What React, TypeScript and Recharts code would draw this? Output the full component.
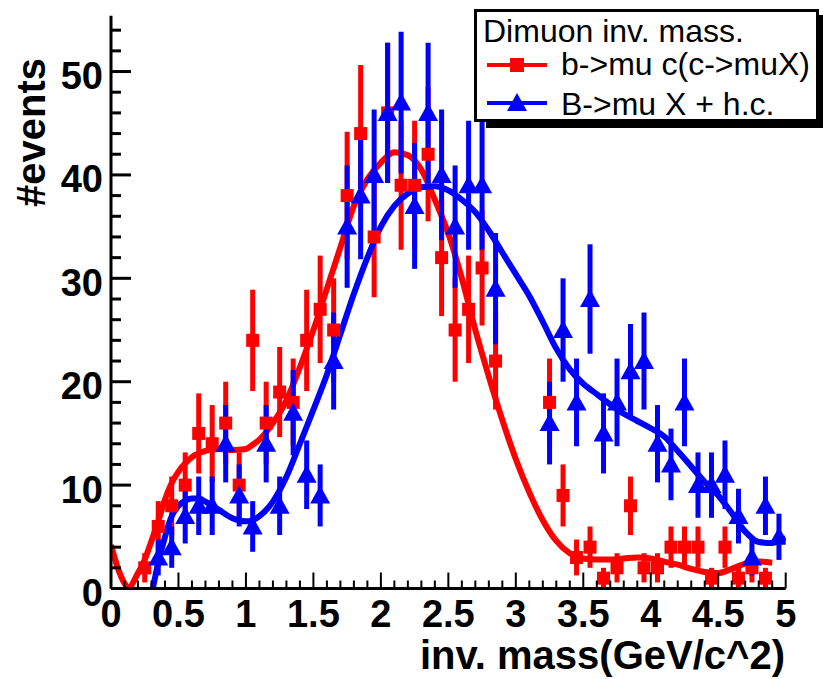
import { ComposedChart, Line, Scatter, XAxis, YAxis, ErrorBar, Legend } from 'recharts';

// bin centres of the 0.1 GeV/c^2 histogram bins
const binCenters = [
  0.05, 0.15, 0.25, 0.35, 0.45, 0.55, 0.65, 0.75, 0.85, 0.95,
  1.05, 1.15, 1.25, 1.35, 1.45, 1.55, 1.65, 1.75, 1.85, 1.95,
  2.05, 2.15, 2.25, 2.35, 2.45, 2.55, 2.65, 2.75, 2.85, 2.95,
  3.05, 3.15, 3.25, 3.35, 3.45, 3.55, 3.65, 3.75, 3.85, 3.95,
  4.05, 4.15, 4.25, 4.35, 4.45, 4.55, 4.65, 4.75, 4.85, 4.95,
];

// b->mu c(c->muX) counts (null = empty bin, not drawn)
const bToMuC = [
  null, null, 2, 6, 8, 10, 15, 14, 16, 10,
  24, 16, 19, 18, 24, 27, 25, 38, 44, 34,
  46, 39, 39, 42, 32, 25, 27, 31, 22, null,
  null, null, 18, 9, 3, 4, 1, 2, 8, 2,
  2, 4, 4, 4, 1, 4, 1, 2, 1, null,
];

// B->mu X + h.c. counts
const bToMuX = [
  null, null, null, 3, 4, 7, 8, 8, 14, 9,
  6, 14, 8, 17, 11, 9, 22, 35, 38, 40,
  46, 47, 37, 46, 40, 35, 39, 39, 29, null,
  null, null, 16, 25, 18, 28, 15, 18, 21, 22,
  14, 12, 18, 10, 10, 11, 7, 3, 8, 5,
];

// smooth fit curves
const redFitX = [0, 0.05, 0.1, 0.13, 0.2, 0.25, 0.3, 0.35, 0.4, 0.45, 0.5, 0.55, 0.6, 0.7, 0.8, 0.9, 1.0, 1.05, 1.1, 1.2, 1.3, 1.4, 1.5, 1.6, 1.7, 1.8, 1.9, 2.0, 2.1, 2.2, 2.3, 2.4, 2.5, 2.6, 2.7, 2.8, 2.9, 3.0, 3.1, 3.2, 3.3, 3.4, 3.5, 3.6, 3.7, 3.8, 3.9, 4.0, 4.1, 4.2, 4.3, 4.4, 4.5, 4.6, 4.7, 4.8, 4.9];
const redFitY = [4.2, 2.0, 0.5, 0.1, 1.5, 2.8, 4.6, 6.5, 8.6, 10.2, 11.3, 12.1, 12.7, 13.3, 13.5, 13.4, 13.5, 13.9, 14.4, 16.0, 18.2, 21.4, 25.0, 29.0, 33.0, 37.0, 39.6, 41.2, 42.2, 41.9, 40.5, 37.6, 34.3, 30.0, 25.0, 20.5, 16.3, 12.5, 9.3, 6.6, 4.6, 3.4, 2.9, 2.8, 2.8, 2.9, 3.0, 2.9, 2.6, 2.3, 1.9, 1.6, 1.5, 1.9, 2.4, 2.6, 2.5];

const blueFitX = [0.31, 0.35, 0.4, 0.45, 0.5, 0.55, 0.6, 0.65, 0.7, 0.8, 0.9, 1.0, 1.05, 1.1, 1.2, 1.3, 1.4, 1.5, 1.6, 1.7, 1.8, 1.9, 2.0, 2.1, 2.2, 2.3, 2.4, 2.5, 2.6, 2.7, 2.8, 2.9, 3.0, 3.1, 3.2, 3.3, 3.4, 3.5, 3.6, 3.7, 3.8, 3.9, 4.0, 4.1, 4.2, 4.3, 4.4, 4.5, 4.6, 4.7, 4.8, 4.9, 5.0];
const blueFitY = [0, 2.5, 5.0, 7.0, 8.0, 8.5, 8.7, 8.7, 8.4, 7.6, 6.8, 6.5, 6.6, 7.0, 8.4, 10.8, 14.0, 17.3, 20.7, 24.6, 28.5, 32.0, 35.0, 37.0, 38.2, 38.8, 38.9, 38.5, 37.6, 36.4, 34.6, 32.5, 30.4, 28.3, 25.8, 23.2, 21.2, 19.8, 18.8, 17.8, 16.9, 16.2, 15.5, 14.7, 13.3, 11.8, 10.3, 9.0, 7.3, 5.5, 4.5, 4.4, 4.9];

const xTicks = Array.from({ length: 51 }, (_, i) => i / 10);
const yTicks = Array.from({ length: 28 }, (_, i) => i * 2);

const RED = '#ff0000';
const BLUE = '#0000ff';
const FONT = '"Liberation Sans", Arial, Helvetica, sans-serif';
const PLOT_LEFT = 111;
const PLOT_BOTTOM = 588.5;

// Poisson errors sqrt(N) on the histogram counts
const toPoints = (ns: (number | null)[]) =>
  binCenters
    .map((x, i) => ({ x, y: ns[i], err: ns[i] == null ? 0 : Math.sqrt(ns[i] as number) }))
    .filter((p) => p.y != null);

const toCurve = (xs: number[], ys: number[]) => xs.map((x, i) => ({ x, y: ys[i] }));

const redPoints = toPoints(bToMuC);
const bluePoints = toPoints(bToMuX);
const redCurve = toCurve(redFitX, redFitY);
const blueCurve = toCurve(blueFitX, blueFitY);

const XTick = (props: any) => {
  const { x, payload } = props;
  const v = payload.value;
  const major = Math.abs(v * 2 - Math.round(v * 2)) < 1e-6;
  return (
    <g>
      <line x1={x} x2={x} y1={PLOT_BOTTOM} y2={PLOT_BOTTOM - (major ? 16 : 8)} stroke="#000" strokeWidth={2} />
      {major && (
        <text x={x} y={627} textAnchor="middle" fontFamily={FONT} fontWeight="bold" fontSize={38} fill="#000">
          {String(Number(v.toFixed(1)))}
        </text>
      )}
    </g>
  );
};

const YTick = (props: any) => {
  const { y, payload } = props;
  const v = payload.value;
  const major = v % 10 === 0;
  return (
    <g>
      <line x1={PLOT_LEFT} x2={PLOT_LEFT + (major ? 20 : 10)} y1={y} y2={y} stroke="#000" strokeWidth={3} />
      {major && (
        <text x={103} y={y + 4} dy="0.355em" textAnchor="end" fontFamily={FONT} fontWeight="bold" fontSize={38} fill="#000">
          {v}
        </text>
      )}
    </g>
  );
};

const Square = (props: any) => {
  const { cx, cy } = props;
  return <rect x={cx - 6.5} y={cy - 6.5} width={13} height={13} fill={RED} />;
};

const Triangle = (props: any) => {
  const { cx, cy } = props;
  return <polygon points={`${cx},${cy - 10} ${cx - 10},${cy + 8} ${cx + 10},${cy + 8}`} fill={BLUE} />;
};

// legend box drawn in page coordinates, shifted by the wrapper position
const LEG_X = 472;
const LEG_Y = 7;

const LegendBox = () => (
  <svg width={351} height={124} style={{ display: 'block' }}>
    <g transform={`translate(${-LEG_X}, ${-LEG_Y})`} fontFamily={FONT} fontSize={32}>
      <rect x={486} y={15} width={345} height={113} fill="#000" />
      <rect x={475.5} y={10.5} width={342} height={110} fill="#fff" stroke="#000" strokeWidth={3} />
      <text x={483} y={42} fill="#000">Dimuon inv. mass.</text>
      <line x1={487} x2={547} y1={65} y2={65} stroke={RED} strokeWidth={4} />
      <rect x={510} y={58} width={14} height={14} fill={RED} />
      <text x={561} y={75} fill="#000">b-&gt;mu c(c-&gt;muX)</text>
      <line x1={487} x2={547} y1={103} y2={103} stroke={BLUE} strokeWidth={4} />
      <polygon points="517,93 507,111 527,111" fill={BLUE} />
      <text x={561} y={115} fill="#000">B-&gt;mu X + h.c.</text>
    </g>
  </svg>
);

export default function App() {
  return (
    <div style={{ position: 'absolute', left: 0, top: 0, width: 823, height: 679, background: '#fff' }}>
      <ComposedChart width={823} height={679} margin={{ top: 15.7, right: 37.3, bottom: 30.5, left: 31 }}>
        <XAxis
          type="number"
          dataKey="x"
          domain={[0, 5]}
          ticks={xTicks}
          interval={0}
          tick={<XTick />}
          tickLine={false}
          axisLine={{ stroke: '#000', strokeWidth: 3 }}
          height={60}
          allowDataOverflow
          label={() => (
            <text x={785} y={669} textAnchor="end" fontFamily={FONT} fontWeight="bold" fontSize={40} fill="#000">
              inv. mass(GeV/c^2)
            </text>
          )}
        />
        <XAxis
          xAxisId="top"
          orientation="top"
          type="number"
          domain={[0, 5]}
          tick={false}
          tickLine={false}
          axisLine={{ stroke: '#000', strokeWidth: 2 }}
          height={0}
        />
        <YAxis
          type="number"
          domain={[0, 55.4]}
          ticks={yTicks}
          interval={0}
          tick={<YTick />}
          tickLine={false}
          axisLine={{ stroke: '#000', strokeWidth: 3 }}
          width={80}
          allowDataOverflow
          label={() => (
            <text x={45} y={58} textAnchor="end" transform="rotate(-90, 45, 58)" fontFamily={FONT} fontWeight="bold" fontSize={40} fill="#000">
              #events
            </text>
          )}
        />
        <YAxis
          yAxisId="right"
          orientation="right"
          type="number"
          domain={[0, 55.4]}
          tick={false}
          tickLine={false}
          axisLine={{ stroke: '#000', strokeWidth: 2 }}
          width={0}
        />

        <Scatter data={redPoints} dataKey="y" fill={RED} shape={<Square />} isAnimationActive={false}>
          <ErrorBar dataKey="err" direction="y" width={0} stroke={RED} strokeWidth={5} />
        </Scatter>
        <Line data={redCurve} dataKey="y" type="monotone" stroke={RED} strokeWidth={6} dot={false} isAnimationActive={false} />
        <Scatter data={bluePoints} dataKey="y" fill={BLUE} shape={<Triangle />} isAnimationActive={false}>
          <ErrorBar dataKey="err" direction="y" width={0} stroke={BLUE} strokeWidth={5} />
        </Scatter>
        <Line data={blueCurve} dataKey="y" type="monotone" stroke={BLUE} strokeWidth={6} dot={false} isAnimationActive={false} />

        <Legend
          layout="vertical"
          align="center"
          verticalAlign="middle"
          content={() => <LegendBox />}
          wrapperStyle={{ left: LEG_X, top: LEG_Y, width: 351, height: 124 }}
        />
      </ComposedChart>
    </div>
  );
}
